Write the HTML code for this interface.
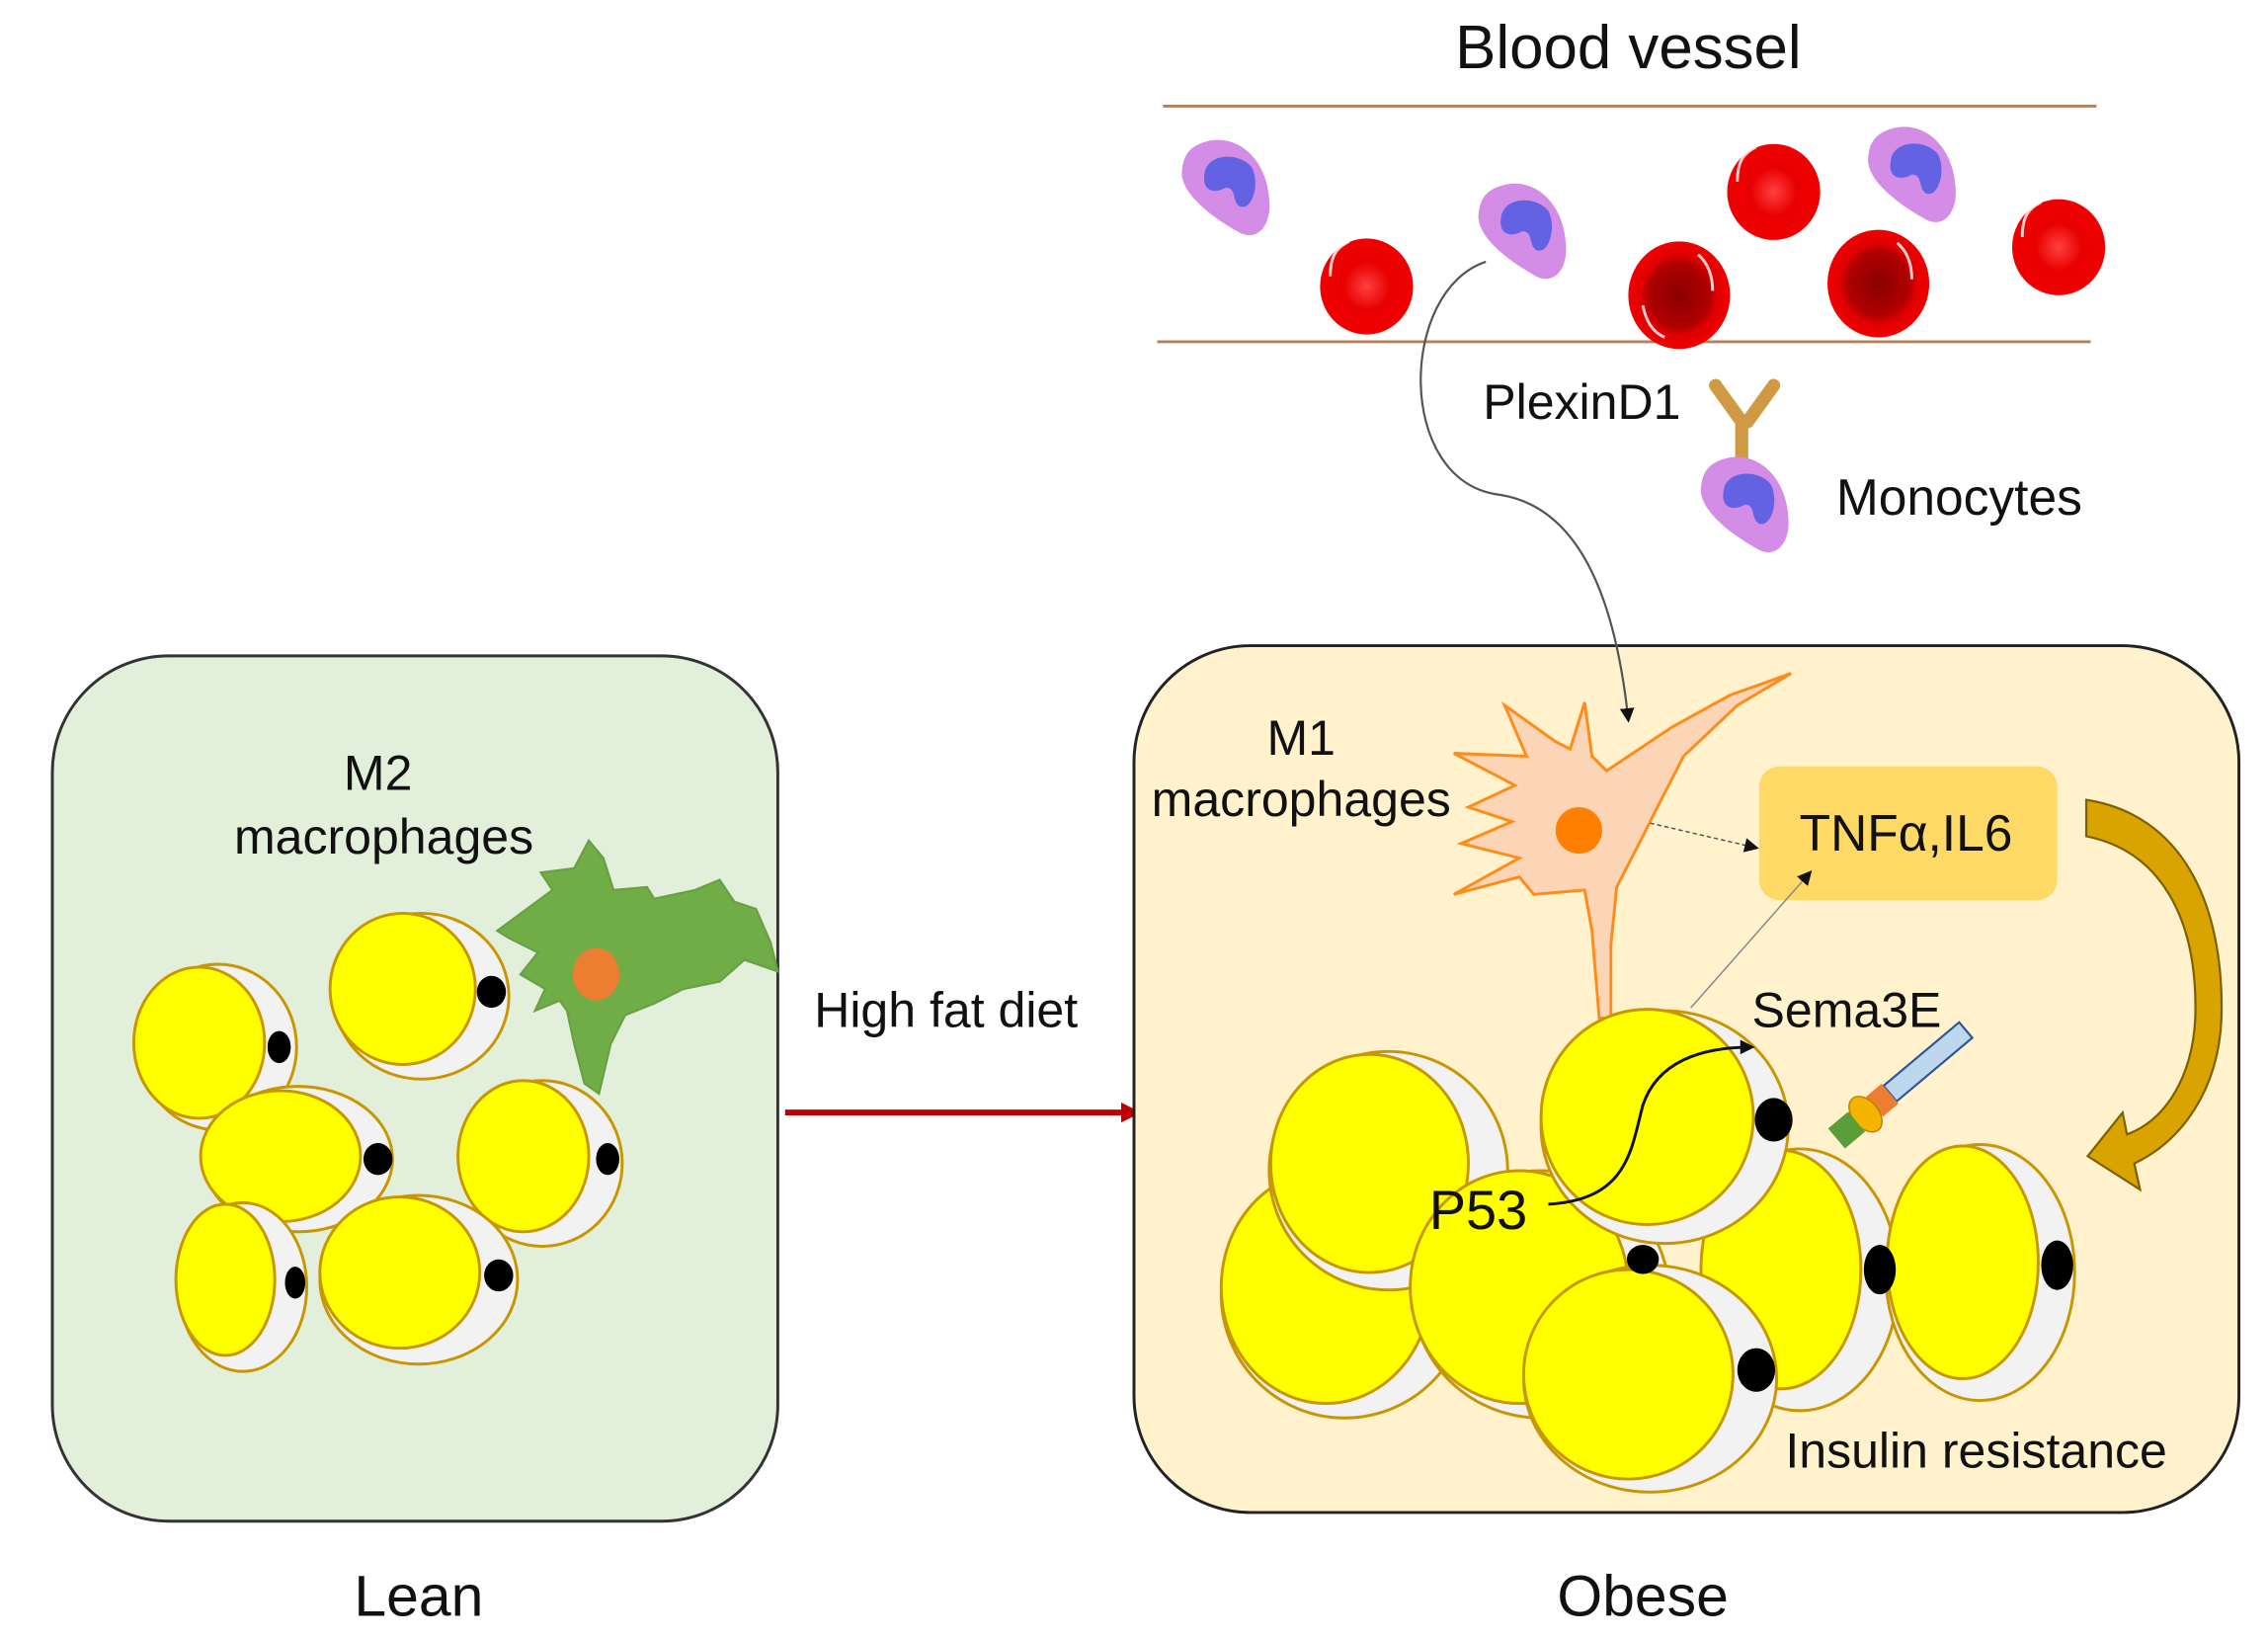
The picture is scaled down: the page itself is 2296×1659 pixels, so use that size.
<!DOCTYPE html>
<html><head><meta charset="utf-8"><style>
html,body{margin:0;padding:0;background:#fff}
svg{display:block}
text{font-family:"Liberation Sans",sans-serif;fill:#111}
</style></head><body>
<svg width="2296" height="1659" viewBox="0 0 1560 1127" preserveAspectRatio="none" xmlns="http://www.w3.org/2000/svg">
<defs>
<radialGradient id="rbc" cx="50%" cy="50%" r="50%"><stop offset="0" stop-color="#ff4040"/><stop offset="0.5" stop-color="#e80000"/><stop offset="1" stop-color="#f00000"/></radialGradient>
<radialGradient id="rbcd" cx="50%" cy="50%" r="50%"><stop offset="0" stop-color="#8a0000"/><stop offset="0.6" stop-color="#b00000"/><stop offset="0.75" stop-color="#e00000"/><stop offset="1" stop-color="#f00000"/></radialGradient>
<marker id="ah" markerWidth="10" markerHeight="10" refX="8" refY="5" orient="auto" markerUnits="userSpaceOnUse"><path d="M0,0 L10,5 L0,10 z" fill="#111"/></marker>
<marker id="ahr" markerWidth="14" markerHeight="14" refX="12" refY="7" orient="auto" markerUnits="userSpaceOnUse"><path d="M0,0 L14,7 L0,14 z" fill="#c00000"/></marker>
<g id="mono"><path d="M-18,-28 C5,-38 28,-20 30,10 C32,30 20,40 8,32 C-10,22 -32,5 -30,-10 C-29,-20 -25,-25 -18,-28z" fill="#d38de6"/><path d="M-14,-10 C-10,-22 10,-22 18,-12 C24,0 18,18 10,15 C4,12 8,2 0,2 C-6,6 -18,6 -14,-10z" fill="#6262e3"/></g>
</defs>

<!-- Blood vessel -->
<text x="1120" y="47" font-size="42" text-anchor="middle">Blood  vessel</text>
<line x1="800" y1="73" x2="1442" y2="73" stroke="#b5805a" stroke-width="2"/>
<line x1="796" y1="235" x2="1438" y2="235" stroke="#b5805a" stroke-width="2"/>
<use href="#mono" x="843" y="127"/>
<use href="#mono" x="1047" y="157"/>
<use href="#mono" x="1315" y="118"/>
<ellipse cx="940" cy="197" rx="32" ry="33" fill="url(#rbc)"/>
<ellipse cx="1220" cy="132" rx="32" ry="33" fill="url(#rbc)"/>
<ellipse cx="1416" cy="170" rx="32" ry="33" fill="url(#rbc)"/>
<ellipse cx="1155" cy="203" rx="35" ry="37" fill="url(#rbcd)"/>
<ellipse cx="1292" cy="195" rx="35" ry="37" fill="url(#rbcd)"/>
<g fill="none" stroke="#fff" stroke-width="2" opacity="0.8">
<path d="M915,190 C915,175 920,170 928,166"/><path d="M1195,125 C1195,110 1200,105 1208,101"/><path d="M1391,163 C1391,148 1396,143 1404,139"/>
<path d="M1130,210 C1132,220 1136,228 1145,232"/><path d="M1168,175 C1176,182 1178,192 1178,200"/><path d="M1305,167 C1313,174 1315,184 1315,192"/>
</g>

<text x="1020" y="288" font-size="34">PlexinD1</text>
<path d="M1180,265 L1198,290 L1198,318 M1220,265 L1202,290" stroke="#d09a45" stroke-width="9" stroke-linecap="round" fill="none"/>
<use href="#mono" x="1200" y="345"/>
<text x="1263" y="354" font-size="35">Monocytes</text>

<!-- Lean box -->
<rect x="36" y="451" width="499" height="595" rx="80" fill="#e2efda" stroke="#333" stroke-width="2"/>
<text x="260" y="543" font-size="34" text-anchor="middle">M2</text>
<text x="264" y="587" font-size="34" text-anchor="middle">macrophages</text>

<g stroke="#c89600" stroke-width="2">
<ellipse cx="150" cy="720" rx="54" ry="57" fill="#f2f2f2"/><ellipse cx="137" cy="717" rx="45" ry="52" fill="#ffff00"/>
<ellipse cx="290" cy="685" rx="60" ry="57" fill="#f2f2f2"/><ellipse cx="277" cy="680" rx="50" ry="52" fill="#ffff00"/>
<ellipse cx="373" cy="800" rx="55" ry="57" fill="#f2f2f2"/><ellipse cx="360" cy="795" rx="45" ry="52" fill="#ffff00"/>
<ellipse cx="205" cy="797" rx="65" ry="50" fill="#f2f2f2"/><ellipse cx="193" cy="795" rx="55" ry="45" fill="#ffff00"/>
<ellipse cx="167" cy="885" rx="44" ry="58" fill="#f2f2f2"/><ellipse cx="155" cy="880" rx="34" ry="52" fill="#ffff00"/>
<ellipse cx="288" cy="880" rx="68" ry="58" fill="#f2f2f2"/><ellipse cx="275" cy="875" rx="55" ry="52" fill="#ffff00"/>
</g>
<g fill="#000">
<ellipse cx="192" cy="720" rx="8" ry="11"/><ellipse cx="338" cy="682" rx="10" ry="11"/><ellipse cx="260" cy="797" rx="10" ry="11"/>
<ellipse cx="418" cy="797" rx="8" ry="11"/><ellipse cx="203" cy="882" rx="7" ry="11"/><ellipse cx="343" cy="877" rx="10" ry="11"/>
</g>
<path d="M342,640 L380,612 L372,600 L395,597 L405,578 L415,590 L422,612 L445,610 L450,618 L478,612 L495,605 L505,620 L520,625 L530,648 L535,668 L512,660 L495,675 L470,680 L450,690 L430,698 L420,718 L412,752 L402,745 L395,718 L390,695 L385,688 L368,695 L375,680 L358,670 L370,655 L350,645 z" fill="#70ad47" stroke="#6a9f45" stroke-width="1.5"/>
<ellipse cx="410" cy="670" rx="16" ry="18" fill="#ed7d31"/>

<!-- High fat diet arrow -->
<text x="560" y="706" font-size="34">High fat diet</text>
<line x1="540" y1="765" x2="783" y2="765" stroke="#c00000" stroke-width="4" marker-end="url(#ahr)"/>

<!-- Obese box -->
<rect x="780" y="444" width="760" height="596" rx="80" fill="#fff2cc" stroke="#222" stroke-width="2"/>
<text x="895" y="519" font-size="34" text-anchor="middle">M1</text>
<text x="895" y="561" font-size="34" text-anchor="middle">macrophages</text>

<!-- migration curve (on top of box) -->
<path d="M1022,180 C962,200 960,330 1030,340 C1090,348 1112,420 1120,495" fill="none" stroke="#555" stroke-width="1.5" marker-end="url(#ah)"/>

<!-- M1 macrophage -->
<path d="M1070,510 L1035,485 L1050,520 L1000,518 L1042,540 L1010,555 L1040,565 L1005,580 L1045,590 L1000,615 L1045,603 L1055,615 L1090,612 L1095,640 L1100,700 L1108,700 L1108,650 L1112,610 L1130,575 L1140,555 L1158,520 L1195,485 L1232,463 L1190,478 L1150,500 L1120,520 L1105,530 L1095,520 L1090,483 L1080,515 z" fill="#fbd5b5" stroke="#ff8c1a" stroke-width="2" stroke-linejoin="miter"/>
<ellipse cx="1086" cy="571" rx="16" ry="16" fill="#ff7f00"/>

<!-- TNF box -->
<rect x="1210" y="527" width="205" height="92" rx="14" fill="#ffd966"/>
<text x="1311" y="585" font-size="35" text-anchor="middle">TNFα,IL6</text>
<line x1="1135" y1="566" x2="1208" y2="583" stroke="#555" stroke-width="1" stroke-dasharray="3,2" marker-end="url(#ah)"/>
<line x1="1163" y1="693" x2="1245" y2="600" stroke="#888" stroke-width="1" marker-end="url(#ah)"/>

<!-- Golden curved arrow -->
<path d="M1435,550 C1500,560 1530,620 1528,700 C1526,750 1500,785 1468,800 L1472,818 L1436,795 L1460,765 L1463,780 C1490,770 1508,740 1510,700 C1512,630 1485,585 1435,575 z" fill="#d9a300" stroke="#7f6000" stroke-width="1.5"/>

<!-- Obese adipocytes -->
<g stroke="#c89600" stroke-width="2">
<ellipse cx="925" cy="890" rx="85" ry="85" fill="#f2f2f2"/><ellipse cx="912" cy="885" rx="72" ry="80" fill="#ffff00"/>
<ellipse cx="955" cy="805" rx="82" ry="82" fill="#f2f2f2"/><ellipse cx="942" cy="800" rx="68" ry="75" fill="#ffff00"/>
<ellipse cx="1060" cy="890" rx="88" ry="85" fill="#f2f2f2"/><ellipse cx="1045" cy="885" rx="75" ry="80" fill="#ffff00"/>
<ellipse cx="1238" cy="880" rx="68" ry="90" fill="#f2f2f2"/><ellipse cx="1225" cy="873" rx="55" ry="82" fill="#ffff00"/>
<ellipse cx="1362" cy="875" rx="65" ry="88" fill="#f2f2f2"/><ellipse cx="1350" cy="868" rx="52" ry="80" fill="#ffff00"/>
<ellipse cx="1145" cy="775" rx="85" ry="80" fill="#f2f2f2"/><ellipse cx="1133" cy="768" rx="73" ry="74" fill="#ffff00"/>
<ellipse cx="1135" cy="948" rx="87" ry="78" fill="#f2f2f2"/><ellipse cx="1120" cy="945" rx="72" ry="72" fill="#ffff00"/>
</g>
<g fill="#000">
<ellipse cx="1130" cy="866" rx="11" ry="10"/><ellipse cx="1293" cy="873" rx="11" ry="17"/><ellipse cx="1415" cy="870" rx="11" ry="17"/>
<ellipse cx="1220" cy="770" rx="13" ry="15"/><ellipse cx="1208" cy="942" rx="13" ry="15"/>
</g>

<!-- Sema3E receptor -->
<g transform="translate(1300,752) rotate(-40)">
<rect x="0" y="-7" width="68" height="14" fill="#bdd7ee" stroke="#2f5597" stroke-width="1.5"/>
<rect x="-14" y="-9" width="14" height="18" fill="#ed7d31"/>
<ellipse cx="-22" cy="0" rx="9" ry="14" fill="#f4b400" stroke="#c08000"/>
<rect x="-48" y="-9" width="18" height="18" fill="#5a9e3a"/>
</g>
<text x="1205" y="706" font-size="34">Sema3E</text>

<text x="983" y="845" font-size="38">P53</text>
<path d="M1065,828 C1120,825 1122,790 1130,760 C1140,730 1170,720 1205,720" fill="none" stroke="#111" stroke-width="2" marker-end="url(#ah)"/>

<text x="1228" y="1009" font-size="34">Insulin resistance</text>

<text x="288" y="1111" font-size="40" text-anchor="middle">Lean</text>
<text x="1130" y="1111" font-size="40" text-anchor="middle">Obese</text>
</svg>
</body></html>
